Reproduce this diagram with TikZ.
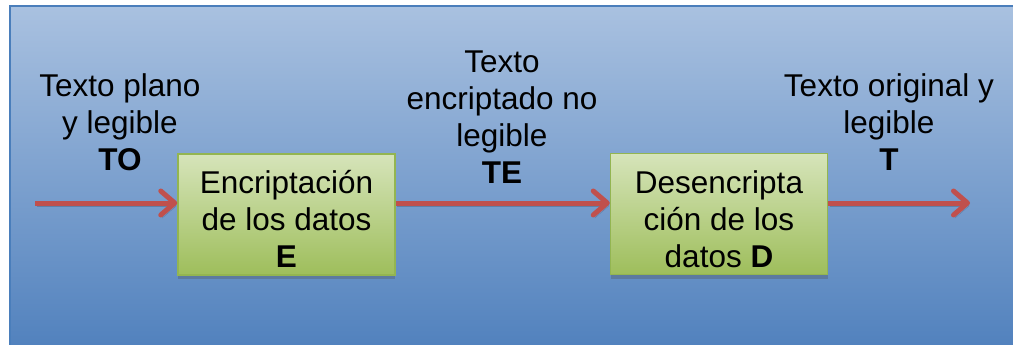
\documentclass[tikz,border=0pt]{standalone}
\usepackage{fontspec}
\setmainfont{Liberation Sans}
\usetikzlibrary{arrows.meta,shadows}
\definecolor{bgtop}{HTML}{A9C1E0}
\definecolor{bgbot}{HTML}{4E7FBC}
\definecolor{frameblue}{HTML}{4A7EBB}
\definecolor{boxtop}{HTML}{D6E4BA}
\definecolor{boxbot}{HTML}{9EBE5B}
\definecolor{boxline}{HTML}{93B551}
\definecolor{arrowred}{HTML}{C0504D}
\begin{document}
\begin{tikzpicture}[x=1pt,y=-1pt,
  lbl/.style={align=center, inner sep=0pt, font=\fontsize{31.5}{37}\selectfont},
  stage/.style={draw=boxline, line width=1.5pt, top color=boxtop, bottom color=boxbot,
    minimum width=217pt, minimum height=121pt, inner sep=0pt,
    drop shadow={shadow xshift=0pt, shadow yshift=-4pt, opacity=0.3, fill=black!70}},
  flow/.style={draw=arrowred, line width=5pt,
    -{Straight Barb[length=14pt,width=24pt,round]},
    preaction={draw=black, opacity=0.18, transform canvas={shift={(1.5pt,-3pt)}}}}
]
\useasboundingbox (0,0) rectangle (1013,345);

% panel with vertical gradient and thin frame
\begin{scope}
  \clip (0,0) rectangle (1013,345);
  \shade[top color=bgtop, bottom color=bgbot] (10,6) rectangle (1030,360);
  \draw[frameblue, line width=2pt] (10,360) -- (10,6) -- (1030,6);
\end{scope}

% processing stages
\node[stage] (enc) at (286.5,214.5) {};
\node[stage] (dec) at (719,214) {};
\node[lbl, anchor=base] (enctext) at (286.5,267) {Encriptación\\de los datos\\\textbf{E}};
\node[lbl, anchor=base] (dectext) at (719,267) {Desencripta\\ción de los\\datos \textbf{D}};

% free ends of the flow
\coordinate (src) at (35,203);
\coordinate (dst) at (970,203);

% flow arrows
\draw[flow] (src) -- (src -| enc.west);
\draw[flow] (enc.east |- src) -- (dec.west |- src);
\draw[flow] (dec.east |- src) -- (dst);

% data labels (anchored at the baseline of their last line)
\node[lbl, anchor=base] (to) at (120,170) {Texto plano\\y legible\\\textbf{TO}};
\node[lbl, anchor=base] (te) at (502,183) {Texto\\encriptado no\\legible\\\textbf{TE}};
\node[lbl, anchor=base] (t) at (889,170) {Texto original y\\legible\\\textbf{T}};
\end{tikzpicture}
\end{document}
